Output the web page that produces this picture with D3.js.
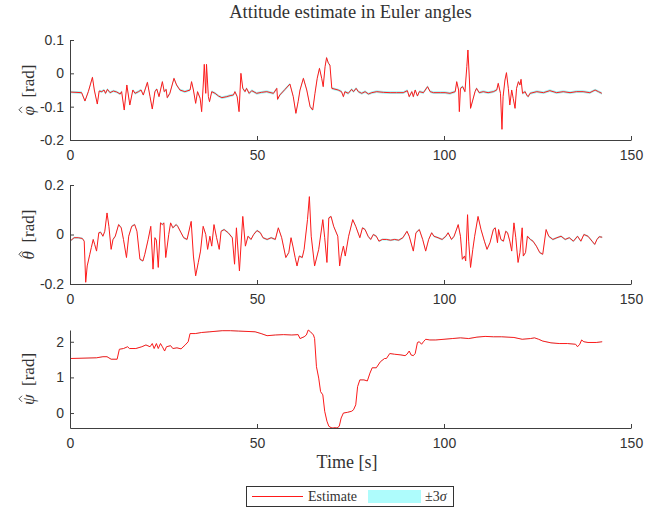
<!DOCTYPE html>
<html><head><meta charset="utf-8">
<script src="https://cdn.jsdelivr.net/npm/d3@7"></script>
<style>body{margin:0;background:#fff}svg{display:block}</style>
</head><body><svg id="c" width="645" height="508"></svg>
<script>
// ---- data (time [s], value [rad]) ----
const phiData = [[0,-0.056],[3.1,-0.058],[4.0,-0.083],[4.9,-0.055],[6.0,-0.012],[6.5,-0.050],[7.3,-0.092],[7.8,-0.053],[8.5,-0.055],[9.1,-0.050],[9.5,-0.060],[10.0,-0.048],[10.7,-0.058],[11.6,-0.053],[12.5,-0.056],[13.4,-0.062],[13.8,-0.055],[14.5,-0.110],[15.2,-0.035],[16.0,-0.095],[16.8,-0.050],[17.4,-0.060],[18.3,-0.055],[19.0,-0.050],[19.6,-0.065],[20.7,-0.027],[21.4,-0.070],[22.0,-0.107],[22.7,-0.055],[23.2,-0.047],[23.8,-0.070],[24.7,-0.025],[25.2,-0.055],[25.7,-0.048],[26.0,-0.073],[26.7,-0.060],[27.8,-0.015],[28.5,-0.035],[29.4,-0.050],[30.7,-0.055],[32.1,-0.050],[32.5,-0.025],[33.0,-0.050],[33.6,-0.090],[34.1,-0.055],[34.8,-0.075],[35.2,-0.115],[35.7,-0.020],[35.9,0.027],[36.3,-0.060],[36.5,0.027],[37.0,-0.070],[37.3,-0.085],[37.9,-0.055],[38.8,-0.060],[39.7,-0.068],[40.6,-0.073],[41.9,-0.070],[42.8,-0.067],[43.7,-0.065],[44.1,-0.055],[44.7,-0.070],[45.2,-0.115],[45.7,0.000],[46.2,-0.045],[46.8,-0.055],[47.2,-0.045],[47.9,-0.060],[48.6,-0.052],[49.9,-0.060],[51.2,-0.057],[52.6,-0.055],[54.4,-0.060],[55.3,-0.045],[55.5,-0.078],[56.1,-0.065],[57.5,-0.048],[58.8,-0.032],[59.7,-0.070],[60.4,-0.120],[61.0,-0.085],[61.5,-0.050],[62.4,-0.015],[63.3,-0.050],[64.2,-0.100],[64.9,-0.110],[65.5,-0.060],[66.1,-0.015],[66.7,0.015],[67.3,-0.015],[67.7,-0.040],[68.2,0.020],[68.6,0.047],[69.1,0.030],[69.5,0.025],[70.0,-0.045],[71.7,-0.050],[72.6,-0.055],[73.1,-0.070],[73.5,-0.055],[74.4,-0.060],[75.3,-0.048],[75.8,-0.055],[76.5,-0.045],[77.1,-0.055],[78.0,-0.060],[78.9,-0.055],[79.8,-0.062],[80.7,-0.058],[82.0,-0.055],[83.8,-0.057],[85.6,-0.058],[87.3,-0.058],[89.1,-0.058],[90.2,-0.052],[90.7,-0.070],[91.4,-0.055],[91.8,-0.070],[92.3,-0.050],[92.9,-0.068],[93.4,-0.055],[94.5,-0.058],[95.6,-0.040],[96.3,-0.055],[97.2,-0.058],[99.0,-0.058],[100.3,-0.058],[101.6,-0.060],[103.0,-0.055],[103.4,-0.025],[103.9,-0.050],[104.1,-0.115],[104.4,-0.045],[105.0,-0.040],[105.6,-0.055],[106.1,0.020],[106.4,0.070],[106.8,-0.020],[107.1,-0.105],[107.7,-0.080],[108.3,-0.055],[108.7,-0.045],[109.4,-0.058],[110.5,-0.055],[111.8,-0.058],[113.2,-0.055],[114.1,-0.050],[114.5,-0.030],[115.1,-0.060],[115.5,-0.168],[115.8,-0.070],[116.3,-0.020],[116.7,0.002],[117.2,-0.045],[117.6,-0.095],[118.1,-0.050],[118.5,-0.075],[119.0,-0.105],[119.4,-0.045],[119.9,-0.025],[120.3,-0.035],[120.6,-0.018],[121.0,-0.060],[121.7,-0.055],[122.1,-0.065],[122.5,-0.070],[123.0,-0.060],[124.8,-0.055],[126.6,-0.058],[128.3,-0.052],[130.1,-0.058],[131.9,-0.055],[133.7,-0.058],[135.4,-0.055],[137.2,-0.055],[139.0,-0.058],[140.4,-0.050],[141.3,-0.055],[142.2,-0.060]];

const thetaData = [[0,-0.027],[1.1,-0.013],[2.2,-0.013],[3.3,-0.016],[3.8,-0.027],[4.2,-0.193],[4.6,-0.127],[5.3,-0.080],[5.7,-0.053],[6.2,-0.020],[6.6,-0.040],[7.1,-0.067],[7.7,0.007],[8.2,0.009],[8.8,-0.007],[9.3,0.013],[9.9,0.087],[10.4,0.033],[11.0,-0.060],[11.5,-0.020],[12.1,-0.007],[13.0,0.040],[13.7,0.027],[14.3,-0.020],[15.1,-0.093],[15.7,-0.007],[16.5,0.033],[17.3,0.040],[17.9,0.013],[18.7,-0.100],[19.5,-0.107],[20.0,-0.080],[20.9,-0.020],[21.6,0.033],[22.2,-0.140],[22.7,-0.013],[23.1,-0.023],[23.6,-0.133],[24.2,0.047],[24.7,0.040],[25.1,0.047],[25.6,-0.093],[26.4,0.000],[26.9,0.047],[27.5,0.027],[28.4,0.040],[28.8,0.033],[29.7,0.007],[30.4,-0.013],[31.3,-0.020],[32.4,0.053],[33.0,-0.087],[33.6,-0.167],[34.3,-0.113],[34.9,-0.067],[35.6,0.033],[36.3,0.000],[36.8,-0.060],[37.4,-0.007],[37.9,-0.047],[38.5,0.040],[39.2,-0.013],[39.9,-0.060],[40.4,0.013],[41.2,0.020],[42.3,0.007],[43.4,-0.013],[44.0,-0.120],[44.5,0.027],[45.3,-0.147],[46.2,0.073],[46.9,-0.047],[47.6,-0.007],[48.4,-0.020],[49.1,0.000],[50.0,0.016],[50.9,0.007],[51.6,-0.013],[52.7,-0.020],[53.8,-0.013],[54.9,-0.020],[55.7,0.027],[56.6,-0.013],[57.7,-0.093],[58.5,-0.073],[59.1,-0.013],[59.6,-0.047],[60.2,-0.093],[60.7,-0.127],[61.3,-0.087],[62.1,-0.093],[62.6,-0.060],[63.5,0.060],[64.0,0.153],[64.5,-0.007],[65.4,-0.127],[66.5,-0.060],[67.6,0.060],[68.1,-0.013],[68.7,-0.113],[69.2,0.067],[69.8,0.073],[70.5,0.033],[71.6,-0.007],[72.1,-0.127],[72.5,-0.087],[73.1,-0.047],[73.6,-0.087],[74.5,-0.007],[75.6,0.060],[76.4,0.033],[77.5,-0.013],[78.2,0.027],[78.9,0.020],[79.7,-0.007],[80.4,-0.020],[81.1,0.000],[81.9,-0.007],[82.6,-0.027],[83.5,-0.020],[84.6,-0.020],[85.7,-0.023],[86.8,-0.020],[87.9,-0.023],[89.0,-0.013],[90.1,0.013],[90.7,-0.007],[91.8,-0.067],[92.5,0.007],[93.4,0.020],[94.3,-0.020],[95.1,-0.067],[95.9,-0.020],[96.7,0.007],[97.3,-0.007],[98.4,-0.013],[99.5,-0.020],[100.5,-0.007],[101.1,0.007],[102.0,-0.020],[102.7,-0.007],[103.8,0.040],[104.4,-0.007],[104.9,-0.100],[105.5,-0.087],[105.8,-0.107],[106.3,0.080],[106.6,-0.027],[107.1,-0.133],[107.7,-0.060],[108.2,-0.007],[109.1,0.073],[109.9,0.020],[110.8,-0.027],[111.5,-0.060],[112.3,-0.033],[113.2,0.020],[113.7,0.027],[114.3,-0.033],[114.6,0.020],[115.2,-0.020],[115.9,-0.027],[116.5,0.013],[117.0,0.007],[117.6,-0.027],[118.1,-0.067],[118.7,0.047],[119.2,-0.013],[119.8,-0.113],[120.3,-0.073],[120.9,0.027],[121.2,-0.087],[121.8,-0.073],[122.3,-0.007],[123.1,-0.020],[123.8,-0.027],[124.7,-0.047],[125.6,-0.073],[126.4,-0.080],[127.3,0.020],[128.0,-0.007],[129.1,-0.020],[130.2,-0.013],[131.3,-0.007],[132.4,-0.020],[133.5,-0.013],[134.6,-0.027],[135.7,-0.007],[136.6,-0.027],[137.4,0.000],[138.5,-0.007],[139.6,-0.027],[140.3,-0.040],[140.9,-0.020],[141.5,-0.009],[142.3,-0.011]];

const psiData = [[0,1.53],[7.1,1.55],[8.8,1.58],[9.9,1.58],[11.0,1.51],[12.6,1.51],[13.2,1.79],[14.3,1.81],[15.4,1.86],[15.9,1.81],[17.6,1.81],[19.2,1.86],[20.3,1.91],[21.4,1.86],[22.0,1.95],[22.5,1.81],[23.1,1.95],[23.6,1.81],[24.2,1.95],[24.7,1.86],[25.3,1.74],[25.8,1.86],[26.9,1.89],[27.5,1.81],[28.6,1.83],[29.7,1.80],[30.8,1.91],[31.6,2.00],[32.1,2.23],[33.5,2.23],[35.2,2.26],[37.4,2.28],[40.7,2.31],[42.9,2.31],[45.1,2.30],[49.5,2.28],[51.1,2.23],[52.7,2.17],[54.9,2.19],[57.1,2.20],[59.3,2.19],[61.0,2.20],[61.5,2.09],[62.6,2.14],[63.2,2.19],[63.7,2.33],[64.3,2.28],[65.1,2.19],[65.4,2.09],[65.9,1.30],[66.5,0.98],[67.0,0.60],[67.6,0.51],[68.1,0.05],[68.7,-0.23],[69.2,-0.37],[69.8,-0.41],[70.3,-0.42],[70.9,-0.41],[71.4,-0.42],[72.0,-0.37],[72.5,-0.14],[73.1,0.00],[74.2,0.02],[75.3,0.05],[75.8,0.09],[76.4,0.23],[76.9,0.74],[77.5,0.93],[78.6,0.93],[79.5,0.90],[80.2,1.12],[80.8,1.27],[81.9,1.27],[83.0,1.44],[84.1,1.53],[84.6,1.53],[85.5,1.67],[86.8,1.65],[88.5,1.63],[89.6,1.61],[90.1,1.65],[90.7,1.74],[91.2,1.63],[91.8,1.61],[92.3,1.67],[92.9,1.98],[93.4,2.00],[94.0,1.93],[94.5,2.00],[95.1,2.07],[96.2,2.05],[97.8,2.05],[100.0,2.07],[102.2,2.09],[104.4,2.11],[106.6,2.09],[108.8,2.13],[111.0,2.15],[113.2,2.14],[115.4,2.14],[118.7,2.12],[120.9,2.07],[123.1,2.09],[124.2,2.11],[125.3,2.07],[126.4,2.02],[128.6,1.97],[130.8,1.95],[133.0,1.95],[135.2,1.93],[135.7,1.86],[136.3,1.93],[136.8,2.05],[137.4,2.00],[138.5,1.98],[140.7,1.98],[142.3,2.00]];

// 3-sigma half-widths of the uncertainty band (rad)
const threeSigma = [0.004, 0.004, 0.01];

const xTicks = [0, 50, 100, 150];
const phiTicks = [-0.2, -0.1, 0, 0.1];
const thetaTicks = [-0.2, 0, 0.2];
const psiTicks = [0, 1, 2];
const yDomains = [[-0.2, 0.1], [-0.2, 0.2], [-0.42, 2.33]];
const ySymbols = ["φ", "θ", "ψ"];
const titleText = "Attitude estimate in Euler angles";
const xLabel = "Time [s]";
const legendItems = ["Estimate", "±3σ"];

// ---- drawing ----
const svg = d3.select("#c");
const left = 70, right = 631;
const panels = [
  {data: phiData, ticks: phiTicks, top: 40, bottom: 140},
  {data: thetaData, ticks: thetaTicks, top: 185, bottom: 284},
  {data: psiData, ticks: psiTicks, top: 330, bottom: 428}
];
const x = d3.scaleLinear().domain([0, 150]).range([left, right]);
const axisCol = "#404040";
const tickFont = "Liberation Sans, Arial, sans-serif";
const serif = "Liberation Serif, Times New Roman, serif";

svg.append("text").attr("x", (left + right) / 2).attr("y", 18)
  .attr("text-anchor", "middle").attr("font-family", serif).attr("font-size", 18.5)
  .attr("fill", "#333").text(titleText);

panels.forEach((p, i) => {
  const y = d3.scaleLinear().domain(yDomains[i]).range([p.bottom, p.top]);
  const g = svg.append("g");
  const s = threeSigma[i];
  g.append("path").datum(p.data)
    .attr("d", d3.area().x(d => x(d[0])).y0(d => y(d[1] - s)).y1(d => y(d[1] + s)))
    .attr("fill", "#9ff5f5");
  g.append("path").datum(p.data)
    .attr("d", d3.line().x(d => x(d[0])).y(d => y(d[1])))
    .attr("fill", "none").attr("stroke", "#ff1a1a").attr("stroke-width", 1)
    .attr("stroke-linejoin", "round");

  const xa = svg.append("g").attr("transform", `translate(0,${p.bottom})`)
    .call(d3.axisBottom(x).tickValues(xTicks).tickSizeInner(-4).tickSizeOuter(0).tickPadding(10)
      .tickFormat(d => String(d)));
  const ya = svg.append("g").attr("transform", `translate(${left},0)`)
    .call(d3.axisLeft(y).tickValues(p.ticks).tickSizeInner(-4).tickSizeOuter(0).tickPadding(10)
      .tickFormat(d => String(d)));
  [xa, ya].forEach(a => {
    a.select(".domain").attr("stroke", axisCol);
    a.selectAll(".tick line").attr("stroke", axisCol);
    a.selectAll(".tick text").attr("font-family", tickFont).attr("font-size", 14).attr("fill", "#333");
  });
  ya.selectAll(".tick text").attr("x", -6);
  xa.selectAll(".tick text").attr("y", 10);

  // y label (rotated), with a hat drawn above the symbol
  const cy = (p.top + p.bottom) / 2;
  const lg = svg.append("g").attr("transform", `translate(34,${cy}) rotate(-90)`);
  const t = lg.append("text").attr("text-anchor", "middle").attr("font-family", serif)
    .attr("font-size", 17).attr("fill", "#333");
  t.append("tspan").attr("font-style", "italic").text(ySymbols[i]);
  t.append("tspan").text("  [rad]").attr("xml:space", "preserve");
  const a0 = t.node().getStartPositionOfChar(0).x, a1 = t.node().getEndPositionOfChar(0).x;
  const hx = (a0 + a1) / 2 + 1, hy = -14;
  lg.append("path")
    .attr("d", `M${hx - 3},${hy + 2}L${hx},${hy - 1}L${hx + 3},${hy + 2}`)
    .attr("fill", "none").attr("stroke", "#333").attr("stroke-width", 0.9);
});

svg.append("text").attr("x", 347).attr("y", 468).attr("text-anchor", "middle")
  .attr("font-family", serif).attr("font-size", 18).attr("fill", "#333").text(xLabel);

// legend
const lgd = svg.append("g");
lgd.append("rect").attr("x", 246.5).attr("y", 486.5).attr("width", 207).attr("height", 20)
  .attr("fill", "#fff").attr("stroke", "#333").attr("stroke-width", 1);
lgd.append("line").attr("x1", 252).attr("x2", 303).attr("y1", 496.5).attr("y2", 496.5)
  .attr("stroke", "#ff1a1a").attr("stroke-width", 1);
lgd.append("text").attr("x", 308).attr("y", 501).attr("font-family", serif).attr("font-size", 14)
  .attr("fill", "#333").text(legendItems[0]);
lgd.append("rect").attr("x", 368).attr("y", 490).attr("width", 53).attr("height", 13).attr("fill", "#aefcfc");
const lt = lgd.append("text").attr("x", 425).attr("y", 501).attr("font-family", serif).attr("font-size", 14)
  .attr("fill", "#333");
lt.append("tspan").text("±3");
lt.append("tspan").attr("font-style", "italic").text("σ");
</script></body></html>
